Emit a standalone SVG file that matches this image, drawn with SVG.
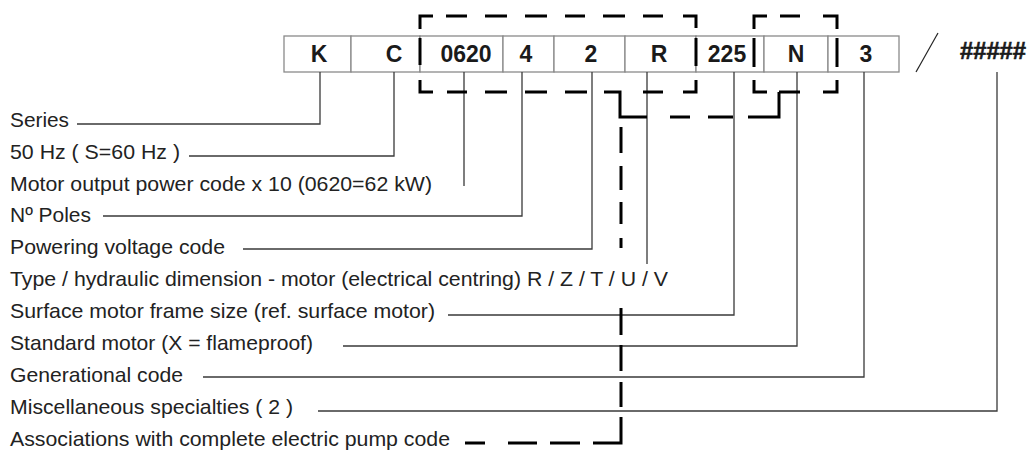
<svg xmlns="http://www.w3.org/2000/svg" width="1027" height="450" viewBox="0 0 1027 450">
<style>
.cell{fill:#fff;stroke:#8a8a8a;stroke-width:1.3}
.ct{font-family:"Liberation Sans",Arial,sans-serif;font-weight:bold;font-size:23px;fill:#1a1a1a;text-anchor:middle}
.lb{font-family:"Liberation Sans",Arial,sans-serif;font-size:21px;fill:#222}
.ln{fill:none;stroke:#3a3a3a;stroke-width:1.3}
.dash{fill:none;stroke:#000;stroke-width:3;stroke-linecap:butt;stroke-linejoin:miter}
</style>
<rect width="1027" height="450" fill="#fff"/>
<g id="code-cells">
<g id="cell-K"><rect class="cell" x="284" y="36" width="67" height="36"/><text class="ct" x="319" y="62">K</text></g>
<g id="cell-C"><rect class="cell" x="351" y="36" width="69" height="36"/><text class="ct" x="394" y="62">C</text></g>
<g id="cell-0620"><rect class="cell" x="420" y="36" width="83" height="36"/><text class="ct" x="466" y="62">0620</text></g>
<g id="cell-4"><rect class="cell" x="503" y="36" width="51" height="36"/><text class="ct" x="526" y="62">4</text></g>
<g id="cell-2"><rect class="cell" x="554" y="36" width="71" height="36"/><text class="ct" x="591" y="62">2</text></g>
<g id="cell-R"><rect class="cell" x="625" y="36" width="71" height="36"/><text class="ct" x="659" y="62">R</text></g>
<g id="cell-225"><rect class="cell" x="696" y="36" width="68" height="36"/><text class="ct" x="727" y="62">225</text></g>
<g id="cell-N"><rect class="cell" x="764" y="36" width="64" height="36"/><text class="ct" x="796" y="62">N</text></g>
<g id="cell-3"><rect class="cell" x="828" y="36" width="71" height="36"/><text class="ct" x="866" y="62">3</text></g>
<g id="separator"><line x1="916" y1="72" x2="938" y2="33" stroke="#222" stroke-width="1.2"/></g>
<g id="cell-hash"><text class="ct" x="960" y="59" style="text-anchor:start;stroke:#1a1a1a;stroke-width:0.6" textLength="66" lengthAdjust="spacingAndGlyphs">#####</text></g>
</g>
<g id="connectors">
<path class="ln" d="M320,72V124H77 M394,72V156H189 M464,72V186 M522,72V216H103 M592,72V249H243 M647,72V264 M734,72V315H448 M797,72V346H343 M864,72V377H203 M997,72V411H318"/>
<g id="group-boxes">
<path class="dash" d="M420,29V16H433 M446,16H467 M485,16H507 M525,16H547 M565,16H585 M603,16H625 M643,16H663 M683,16H696V28 M696,38V66 M696,80V92H683 M663,92H643 M587,92H565 M547,92H525 M507,92H485 M467,92H447 M433,92H420V80 M420,65V38"/>
<path class="dash" d="M754,29V16H767 M780,16H800 M823,16H837V29 M837,38V67 M837,80V92H823 M800,92H779 M767,92H754V80 M754,67V38"/>
</g>
<path id="association-link" class="dash" d="M604,92H620V117H647 M670,117H690 M708,117H733 M748,117H779V92 M621,127V153 M621,166V190 M621,202V224 M621,238V248 M621,308V335 M621,345V371 M621,382V407 M621,417V443H593 M580,443H550 M537,443H508 M485,443H465"/>
</g>
<g id="labels">
<g id="label-series"><text class="lb" x="10" y="127" textLength="59" lengthAdjust="spacingAndGlyphs">Series</text></g>
<g id="label-hz"><text class="lb" x="10" y="159" textLength="170" lengthAdjust="spacingAndGlyphs">50 Hz ( S=60 Hz )</text></g>
<g id="label-power"><text class="lb" x="10" y="191" textLength="422" lengthAdjust="spacingAndGlyphs">Motor output power code x 10 (0620=62 kW)</text></g>
<g id="label-poles"><text class="lb" x="10" y="222" textLength="81" lengthAdjust="spacingAndGlyphs">Nº Poles</text></g>
<g id="label-voltage"><text class="lb" x="10" y="254" textLength="215" lengthAdjust="spacingAndGlyphs">Powering voltage code</text></g>
<g id="label-type"><text class="lb" x="10" y="286" textLength="658" lengthAdjust="spacingAndGlyphs">Type / hydraulic dimension - motor (electrical centring) R / Z / T / U / V</text></g>
<g id="label-frame"><text class="lb" x="10" y="318" textLength="425" lengthAdjust="spacingAndGlyphs">Surface motor frame size (ref. surface motor)</text></g>
<g id="label-standard"><text class="lb" x="10" y="350" textLength="303" lengthAdjust="spacingAndGlyphs">Standard motor (X = flameproof)</text></g>
<g id="label-generational"><text class="lb" x="10" y="382" textLength="173" lengthAdjust="spacingAndGlyphs">Generational code</text></g>
<g id="label-misc"><text class="lb" x="10" y="414" textLength="283" lengthAdjust="spacingAndGlyphs">Miscellaneous specialties ( 2 )</text></g>
<g id="label-assoc"><text class="lb" x="10" y="446" textLength="440" lengthAdjust="spacingAndGlyphs">Associations with complete electric pump code</text></g>
</g>
</svg>
